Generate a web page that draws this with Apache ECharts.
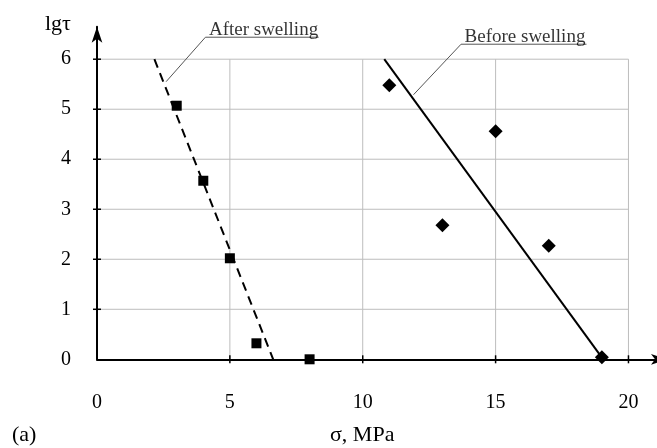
<!DOCTYPE html>
<html><head><meta charset="utf-8">
<script src="https://cdn.jsdelivr.net/npm/echarts@6/dist/echarts.min.js"></script>
<style>html,body{margin:0;padding:0;background:#fff}#c{width:657px;height:448px}</style>
</head><body><div id="c"></div>
<script>
// ---- data ----
const xTicks = [0, 5, 10, 15, 20];
const yTicks = [0, 1, 2, 3, 4, 5, 6];
const afterSwelling = [[3, 5.07], [4, 3.57], [5, 2.02], [6, 0.32], [8, 0]];
const beforeSwelling = [[11, 5.48], [13, 2.68], [15, 4.56], [17, 2.27], [19, 0.04]];
const afterFit = [[2.16, 6], [6.63, 0]];
const beforeFit = [[10.81, 6], [19.05, 0]];
const afterLabel = 'After swelling';
const beforeLabel = 'Before swelling';
const afterLeader = [[2.6, 5.55], [4.08, 6.44], [8.34, 6.44]];
const beforeLeader = [[11.91, 5.29], [13.7, 6.3], [18.42, 6.3]];
const xName = 'σ, MPa';
const yName = 'lgτ';
const panelTag = '(a)';
const xMax = 21.45, yMax = 6.65;

// ---- chart ----
const FONT = 'Liberation Serif';
const FS = 19;
const gridTop = yTicks[yTicks.length - 1];
const gridRight = xTicks[xTicks.length - 1];
const chart = echarts.init(document.getElementById('c'), null, {renderer: 'canvas'});

function lineEl(a, b, stroke, w) {
  return {type: 'line', shape: {x1: a[0], y1: a[1], x2: b[0], y2: b[1]}, style: {stroke: stroke, lineWidth: w}};
}
const titleStyle = {fontFamily: FONT, fontSize: 22, fontWeight: 'normal', color: '#000'};

const option = {
  animation: false,
  backgroundColor: '#fff',
  textStyle: {fontFamily: FONT},
  title: [
    {text: yName, left: 45, top: 13, padding: 0, textStyle: titleStyle},
    {text: xName, left: 330, top: 424, padding: 0, textStyle: titleStyle},
    {text: panelTag, left: 12, top: 424, padding: 0, textStyle: titleStyle}
  ],
  grid: {left: 97, top: 26.7, width: 570, height: 332.6, containLabel: false, outerBoundsMode: 'none'},
  xAxis: {
    type: 'value', min: 0, max: xMax, interval: 5,
    splitLine: {show: false}, axisTick: {show: false},
    axisLine: {show: true, onZero: false, symbol: ['none', 'arrow'], symbolSize: [8, 16], lineStyle: {color: '#000', width: 2}},
    axisLabel: {margin: 33, color: '#000', fontFamily: FONT, fontSize: 20,
      formatter: v => xTicks.includes(v) ? String(v) : ''}
  },
  yAxis: {
    type: 'value', min: 0, max: yMax, interval: 1,
    splitLine: {show: false}, axisTick: {show: false},
    axisLine: {show: true, onZero: false, symbol: ['none', 'arrow'], symbolSize: [8, 16], lineStyle: {color: '#000', width: 2}},
    axisLabel: {margin: 26, color: '#000', fontFamily: FONT, fontSize: 20,
      formatter: v => yTicks.includes(v) ? String(v) : ''}
  },
  series: [
    { // vertical grid lines
      type: 'custom', z: 0, silent: true, clip: false,
      data: xTicks.filter(v => v > 0).map(v => [v, 0]),
      renderItem: (p, api) => lineEl(api.coord([api.value(0), 0]), api.coord([api.value(0), gridTop]), '#bdbdbd', 1)
    },
    { // horizontal grid lines
      type: 'custom', z: 0, silent: true, clip: false,
      data: yTicks.filter(v => v > 0).map(v => [0, v]),
      renderItem: (p, api) => lineEl(api.coord([0, api.value(1)]), api.coord([gridRight, api.value(1)]), '#bdbdbd', 1)
    },
    { // x ticks
      type: 'custom', z: 3, silent: true, clip: false,
      data: xTicks.filter(v => v > 0).map(v => [v, 0]),
      renderItem: (p, api) => { const c = api.coord([api.value(0), 0]); return lineEl([c[0], c[1] - 4], [c[0], c[1] + 4], '#000', 1.5); }
    },
    { // y ticks
      type: 'custom', z: 3, silent: true, clip: false,
      data: yTicks.filter(v => v > 0).map(v => [0, v]),
      renderItem: (p, api) => { const c = api.coord([0, api.value(1)]); return lineEl([c[0] - 4, c[1]], [c[0] + 4, c[1]], '#000', 1.5); }
    },
    {
      name: 'After fit', type: 'line', data: afterFit, symbol: 'none', clip: false, z: 4,
      lineStyle: {color: '#000', width: 2, type: [9, 6]}
    },
    {
      name: 'Before fit', type: 'line', data: beforeFit, symbol: 'none', clip: false, z: 4,
      lineStyle: {color: '#000', width: 2}
    },
    {
      name: 'After leader', type: 'line', data: afterLeader, symbol: 'none', clip: false, z: 4,
      lineStyle: {color: '#555', width: 1}
    },
    {
      name: 'Before leader', type: 'line', data: beforeLeader, symbol: 'none', clip: false, z: 4,
      lineStyle: {color: '#555', width: 1}
    },
    {
      name: afterLabel, type: 'scatter', data: afterSwelling, symbol: 'rect', symbolSize: 10, z: 5,
      itemStyle: {color: '#000', opacity: 1}
    },
    {
      name: beforeLabel, type: 'scatter', data: beforeSwelling, symbol: 'diamond', symbolSize: 14, z: 5,
      itemStyle: {color: '#000', opacity: 1}
    },
    {
      type: 'scatter', clip: false, silent: true, z: 6, symbolSize: 1,
      itemStyle: {color: 'rgba(0,0,0,0)'},
      data: [
        {value: afterLeader[1], label: {formatter: afterLabel}},
        {value: beforeLeader[1], label: {formatter: beforeLabel}}
      ],
      label: {show: true, position: [4, -7], align: 'left', verticalAlign: 'middle',
        color: '#000', fontFamily: FONT, fontSize: FS}
    }
  ]
};
chart.setOption(option);
</script>
</body></html>
